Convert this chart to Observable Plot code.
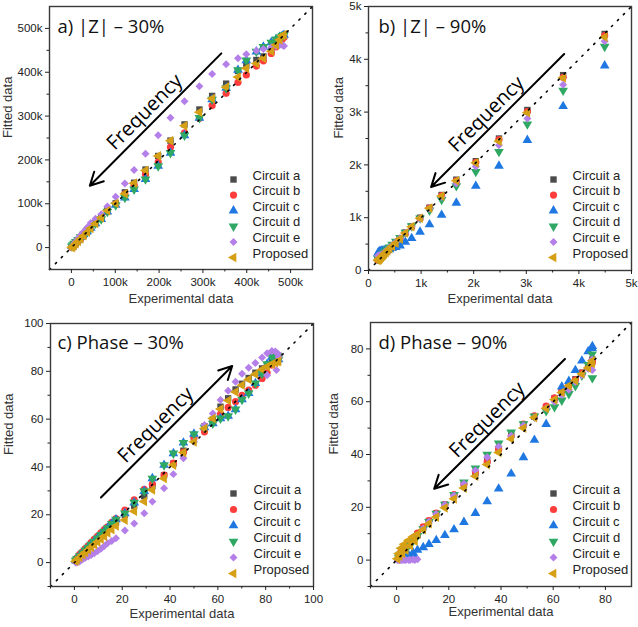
<!DOCTYPE html>
<html>
<head>
<meta charset="utf-8">
<script src="https://cdn.jsdelivr.net/npm/d3@7"></script>
<script src="https://cdn.jsdelivr.net/npm/@observablehq/plot@0.6"></script>
<style>
  html,body{margin:0;padding:0;background:#fff;}
  #fig{position:relative;width:638px;height:627px;overflow:hidden;background:#fff;}
  #fig > div{position:absolute;}
  #fig svg{background:transparent !important;}
</style>
</head>
<body>
<div id="fig">
  <div id="pd" style="left:319px;top:313px"></div>
  <div id="pb" style="left:319px;top:0"></div>
  <div id="pa" style="left:0;top:0"></div>
  <div id="pc" style="left:0;top:313px"></div>
</div>
<script>
// ---------- series meta ----------
const seriesNames = ["Circuit a", "Circuit b", "Circuit c", "Circuit d", "Circuit e", "Proposed"];
const seriesColors = ["#4b4b4b", "#ff3d3d", "#1f78e2", "#2ea862", "#b47fe8", "#d6a016"];
const seriesSymbols = ["square", "circle", "triangle", "triangle", "diamond2", "triangle"];
const seriesRotate = [0, 0, 0, 180, 0, -90];

// ---------- panel a : |Z| - 30% (values in k) ----------
const zx30 = [1, 3, 6, 10, 15, 21, 28, 36, 44, 55, 68, 82, 101, 122, 143, 169, 198, 226, 258, 292, 321, 353, 380, 399, 422, 438, 456, 467, 475, 481, 485];
const z30a = [1, 3, 6, 10, 15, 21, 28, 36, 45, 56, 68, 85, 101, 126, 148, 178, 209, 244, 281, 315, 346, 374, 403, 415, 428, 436, 450, 466, 475, 480, 482];
const z30b = [1, 3, 6, 10, 15, 21, 28, 36, 44, 55, 66, 82, 99, 122, 142, 167, 195, 229, 262, 295, 324, 352, 377, 394, 414, 426, 443, 458, 468, 476, 480];
const z30c = [3, 6, 9, 13, 18, 24, 30, 37, 45, 55, 65, 82, 97, 114, 133, 156, 186, 216, 256, 296, 338, 364, 405, 427, 447, 458, 468, 475, 480, 483, 485];
const z30d = [3, 6, 9, 13, 18, 24, 30, 37, 45, 55, 65, 82, 97, 114, 133, 156, 186, 216, 256, 296, 338, 364, 405, 427, 447, 458, 468, 475, 480, 483, 485];
const z30e = [2, 5, 9, 14, 20, 28, 36, 46, 56, 66, 76, 94, 116, 146, 177, 214, 256, 296, 334, 368, 396, 418, 432, 441, 449, 453, 457, 460, 462, 462, 460];
const z30p = [0, 2, 5, 9, 14, 20, 27, 35, 44, 55, 68, 84, 101, 123, 147, 176, 209, 244, 278, 309, 340, 366, 389, 409, 420, 432, 448, 462, 474, 483, 486];

// ---------- panel b : |Z| - 90% (values in k) ----------
const zx90 = [0.18, 0.19, 0.20, 0.21, 0.22, 0.24, 0.26, 0.28, 0.30, 0.33, 0.36, 0.40, 0.45, 0.52, 0.60, 0.70, 0.82, 0.98, 1.16, 1.39, 1.67, 2.04, 2.48, 3.02, 3.70, 4.49];
const z90a = [0.20, 0.21, 0.22, 0.23, 0.24, 0.26, 0.28, 0.30, 0.32, 0.35, 0.38, 0.42, 0.47, 0.53, 0.61, 0.72, 0.84, 1.00, 1.19, 1.43, 1.72, 2.07, 2.50, 3.04, 3.70, 4.48];
const z90b = [0.20, 0.21, 0.22, 0.23, 0.24, 0.26, 0.28, 0.30, 0.32, 0.35, 0.38, 0.42, 0.47, 0.53, 0.61, 0.71, 0.83, 0.99, 1.18, 1.42, 1.70, 2.05, 2.48, 3.01, 3.66, 4.45];
const z90c = [0.33, 0.34, 0.35, 0.36, 0.36, 0.37, 0.37, 0.37, 0.38, 0.38, 0.39, 0.40, 0.42, 0.44, 0.47, 0.54, 0.61, 0.73, 0.87, 1.05, 1.28, 1.60, 1.98, 2.47, 3.11, 3.88];
const z90d = [0.22, 0.23, 0.24, 0.25, 0.26, 0.28, 0.30, 0.32, 0.34, 0.37, 0.40, 0.44, 0.49, 0.55, 0.62, 0.72, 0.84, 0.99, 1.14, 1.34, 1.60, 1.87, 2.25, 2.77, 3.41, 4.24];
const z90e = [0.28, 0.28, 0.28, 0.29, 0.29, 0.30, 0.31, 0.32, 0.34, 0.36, 0.39, 0.43, 0.48, 0.54, 0.61, 0.71, 0.83, 0.98, 1.17, 1.39, 1.65, 1.97, 2.37, 2.88, 3.52, 4.34];
const z90p = [0.19, 0.20, 0.21, 0.22, 0.23, 0.25, 0.27, 0.29, 0.31, 0.34, 0.37, 0.41, 0.46, 0.52, 0.60, 0.71, 0.83, 0.99, 1.18, 1.41, 1.70, 2.04, 2.45, 2.99, 3.65, 4.42];

// ---------- panel c : Phase - 30% ----------
const px30 = [0.5, 1.1, 2.2, 3.5, 4.6, 5.8, 7.0, 8.3, 9.7, 11.1, 12.5, 13.9, 15.6, 17.4, 21.1, 25.0, 29.2, 32.6, 37.5, 41.4, 45.6, 50.0, 54.4, 57.9, 61.1, 64.3, 67.4, 70.1, 72.9, 75.7, 78.5, 80.6, 82.6, 84.0, 85.0, 85.4, 84.5, 80.6];
const p30a = [0.8, 1.5, 2.8, 4.2, 5.4, 6.6, 7.9, 9.1, 10.4, 11.8, 13.2, 14.5, 15.8, 16.8, 20.0, 23.8, 27.8, 32.0, 36.6, 41.4, 46.8, 52.4, 57.0, 59.8, 65.2, 68.7, 72.4, 74.8, 77.2, 79.4, 81.2, 82.6, 84.0, 85.2, 86.2, 86.5, null, null];
const p30b = [1.0, 2.0, 3.4, 4.6, 5.8, 7.0, 8.4, 9.7, 11.0, 12.4, 13.8, 15.0, 16.8, 18.4, 22.0, 26.2, 30.6, 32.8, 36.6, 41.6, 46.2, 52.2, 54.7, 58.6, 62.1, 64.9, 67.3, 70.0, 72.1, 74.2, 77.0, 79.4, 82.6, 85.4, 86.0, 85.5, null, null];
const p30c = [0.9, 1.6, 2.7, 4.0, 5.1, 6.3, 7.5, 8.8, 10.2, 11.6, 13.0, 14.4, 16.2, 18.0, 20.6, 25.1, 29.9, 35.2, 40.8, 45.7, 50.1, 53.8, 56.5, 58.2, 60.3, 61.3, 64.1, 68.2, 70.8, 75.0, 79.0, 83.0, 86.0, 87.0, 86.5, 85.0, null, null];
const p30d = [0.9, 1.6, 2.7, 4.0, 5.1, 6.3, 7.5, 8.8, 10.2, 11.6, 13.0, 14.4, 16.2, 18.0, 20.6, 25.1, 29.9, 35.2, 40.8, 45.7, 50.1, 53.8, 56.5, 58.2, 60.3, 61.3, 64.1, 68.2, 70.8, 75.0, 79.0, 83.0, 86.0, 87.0, 86.5, 85.0, null, null];
const p30e = [0.0, 0.0, 0.5, 1.4, 2.0, 2.5, 3.2, 3.9, 4.8, 5.8, 6.9, 8.1, 9.0, 10.2, 13.4, 16.4, 20.6, 25.5, 31.1, 37.0, 43.6, 50.5, 57.5, 62.4, 68.0, 71.9, 75.6, 79.0, 81.5, 83.5, 85.8, 87.6, 88.5, 88.3, 87.5, 86.0, 80.5, 78.4];
const p30p = [0.6, 1.2, 2.2, 3.3, 4.3, 5.3, 6.4, 7.5, 8.7, 9.8, 11.0, 12.4, 13.8, 15.3, 17.8, 21.5, 25.6, 30.4, 35.2, 40.8, 46.0, 50.5, 56.1, 60.3, 64.2, 67.8, 71.4, 74.2, 76.6, 78.8, 80.8, 82.0, 83.0, 83.6, 84.0, 84.3, null, null];

// ---------- panel d : Phase - 90% ----------
const px90 = [0.8, 1.7, 2.9, 4.6, 6.3, 8.0, 10.2, 12.4, 15.2, 18.5, 22.0, 25.8, 30.2, 34.7, 39.1, 43.9, 48.6, 52.8, 57.3, 60.5, 63.3, 66.0, 68.5, 71.0, 73.4, 74.9, 75.0, 0.3, 1.2, 2.2, 3.5, 5.2, 7.0];
const p90a = [1.5, 2.5, 4.0, 5.8, 7.5, 9.5, 12.3, 14.8, 17.6, 21.0, 24.5, 28.3, 32.9, 37.7, 42.1, 47.5, 51.3, 54.3, 58.0, 61.3, 64.0, 66.3, 68.5, 71.0, 73.5, 75.4, 76.0, null, null, null, null, null, null];
const p90b = [1.8, 3.0, 4.8, 6.6, 8.4, 10.2, 12.6, 15.0, 17.8, 21.0, 24.8, 28.8, 33.5, 37.2, 42.0, 47.0, 51.5, 54.6, 58.3, 61.5, 64.2, 66.2, 68.3, 70.8, 73.0, 74.6, 75.5, null, null, null, null, null, null];
const p90c = [0.2, 0.6, 1.2, 1.9, 2.8, 3.8, 4.8, 6.0, 7.5, 9.4, 11.6, 14.4, 17.8, 22.2, 27.0, 32.7, 38.9, 45.5, 51.5, null, 65.7, 67.8, 71.9, 75.5, 79.0, 80.3, 81.0, null, null, null, 0.8, 1.0, 1.4];
const p90d = [1.0, 2.2, 3.8, 5.5, 7.3, 9.2, 11.8, 14.5, 17.6, 21.0, 24.7, 29.5, 34.8, 40.0, 44.2, 48.4, 51.5, 54.5, 56.5, 58.0, 60.5, 63.0, 66.0, 70.0, 74.0, 78.0, 69.0, null, null, null, null, null, null];
const p90e = [0.0, 0.0, 0.0, 0.0, 0.2, 0.3, 12.0, 14.5, 17.5, 21.0, 24.5, 28.9, 33.9, 39.0, 43.0, 47.1, 51.0, 54.0, 57.5, 60.0, 62.5, 64.5, 67.5, 70.0, 72.5, 76.0, 72.0, 0.0, 0.0, 0.0, 0.0, 0.0, 0.0];
const p90p = [2.5, 4.5, 6.0, 7.5, 8.8, 9.8, 11.5, 13.8, 16.3, 19.8, 23.2, 27.3, 31.8, 36.2, 40.8, 45.9, 50.0, 54.0, 57.5, 60.8, 63.5, 66.0, 68.0, 70.5, 72.8, 74.5, 75.5, 0.5, 1.5, 2.5, 3.8, 5.5, 7.2];

// ---------- tick labels ----------
const kTicks = [0, 100, 200, 300, 400, 500];
const kMinor = [50, 150, 250, 350, 450];
const k5Ticks = [0, 1, 2, 3, 4, 5];
const k5Minor = [0.5, 1.5, 2.5, 3.5, 4.5];
const phaseTicksC = [0, 20, 40, 60, 80, 100];
const phaseMinorC = [-10, 10, 30, 50, 70, 90];
const phaseTicksD = [0, 20, 40, 60, 80];
const phaseMinorD = [-10, 10, 30, 50, 70];
const kFmt = d => d === 0 ? "0" : d + "k";

function makePanel(c) {
  const marks = [];
  c.series.forEach((ys, i) => {
    const pts = [];
    c.xs.forEach((x, j) => { if (ys[j] != null) pts.push({x, y: ys[j]}); });
    marks.push(Plot.dot(pts, {x: "x", y: "y", symbol: seriesSymbols[i], rotate: seriesRotate[i], fill: seriesColors[i], r: 3.6}));
  });
  marks.push(Plot.line([[c.diag[0], c.diag[0]], [c.diag[1], c.diag[1]]], {stroke: "#000", strokeWidth: 1.6, strokeDasharray: "1.4,7"}));
  marks.push(Plot.frame({stroke: "#3a3a3a", strokeWidth: 1.4}));
  marks.push(Plot.axisX({ticks: c.xticks, tickSize: 4, tickPadding: 4, tickFormat: c.fmt, label: null, fontSize: 11.5}));
  marks.push(Plot.axisX({ticks: c.xminor, tickSize: 2.5, tickFormat: () => "", label: null}));
  marks.push(Plot.axisY({ticks: c.yticks, tickSize: 4, tickPadding: 3, tickFormat: c.fmt, label: null, fontSize: 11.5}));
  marks.push(Plot.axisY({ticks: c.yminor, tickSize: 2.5, tickFormat: () => "", label: null}));
  marks.push(Plot.arrow([c.arrow], {x1: "x1", y1: "y1", x2: "x2", y2: "y2", stroke: "#000", strokeWidth: 2, headLength: 11, headAngle: 55}));
  marks.push(Plot.text([c.freq], {x: "x", y: "y", text: () => "Frequency", rotate: -45, fontSize: 20, fontFamily: "Open Sans", fill: "#000"}));
  marks.push(Plot.text([{}], {frameAnchor: "top-left", dx: c.titleDx, dy: c.titleDy, lineAnchor: "bottom", textAnchor: "start", text: () => c.title, fontSize: 18.5, fontFamily: "Open Sans", fill: "#111"}));
  marks.push(Plot.text([{}], {frameAnchor: "bottom", dy: c.xlabDy, text: () => "Experimental data", fontSize: 13, fill: "#333"}));
  marks.push(Plot.text([{}], {frameAnchor: "left", dx: c.ylabDx, rotate: -90, text: () => "Fitted data", fontSize: 13, fill: "#333"}));
  seriesNames.forEach((n, i) => {
    const dy = c.leg.dy0 + i * c.leg.step;
    marks.push(Plot.dot([{}], {frameAnchor: "bottom-right", dx: c.leg.sym, dy, symbol: seriesSymbols[i], rotate: seriesRotate[i], fill: seriesColors[i], r: 3.6}));
    marks.push(Plot.text([{}], {frameAnchor: "bottom-right", dx: c.leg.txt, dy, text: () => n, textAnchor: "start", fontSize: 13, fill: "#222"}));
  });
  const svg = Plot.plot({
    width: c.width, height: c.height,
    marginLeft: c.m[0], marginRight: c.m[1], marginTop: c.m[2], marginBottom: c.m[3],
    x: {domain: c.xdom}, y: {domain: c.ydom},
    style: {fontFamily: "'Liberation Sans', Arial, sans-serif", fontSize: "11.5px", color: "#222", background: "transparent", overflow: "visible"},
    marks
  });
  document.getElementById(c.el).appendChild(svg);
}

makePanel({
  el: "pa", width: 319, height: 313, m: [49, 7, 6, 44],
  xs: zx30, series: [z30a, z30b, z30c, z30d, z30e, z30p],
  xdom: [-50, 550], ydom: [-50, 550], diag: [-50, 550],
  xticks: kTicks, xminor: kMinor, yticks: kTicks, yminor: kMinor, fmt: kFmt,
  arrow: {x1: 342, y1: 443, x2: 42, y2: 141}, freq: {x: 167, y: 309},
  title: "a) |Z| \u2013 30%", titleDx: 8, titleDy: 26,
  xlabDy: 33, ylabDx: -42,
  leg: {sym: -79, txt: -60, dy0: -90, step: 15.6}
});
makePanel({
  el: "pb", width: 319, height: 313, m: [49, 7, 6, 43],
  xs: zx90, series: [z90a, z90b, z90c, z90d, z90e, z90p],
  xdom: [0, 5], ydom: [0, 5], diag: [0, 5],
  xticks: k5Ticks, xminor: k5Minor, yticks: k5Ticks, yminor: k5Minor, fmt: kFmt,
  arrow: {x1: 3.72, y1: 4.10, x2: 1.19, y2: 1.58}, freq: {x: 2.24, y: 2.96},
  title: "b) |Z| \u2013 90%", titleDx: 10, titleDy: 26,
  xlabDy: 32, ylabDx: -30,
  leg: {sym: -78, txt: -59, dy0: -91, step: 15.6}
});
makePanel({
  el: "pc", width: 319, height: 314, m: [50, 6, 10, 41],
  xs: px30, series: [p30a, p30b, p30c, p30d, p30e, p30p],
  xdom: [-10, 100], ydom: [-10, 100], diag: [-10, 100],
  xticks: phaseTicksC, xminor: phaseMinorC, yticks: phaseTicksC, yminor: phaseMinorC, fmt: d3.format("d"),
  arrow: {x1: 11.1, y1: 27.2, x2: 66, y2: 82.2}, freq: {x: 34, y: 57.5},
  title: "c) Phase \u2013 30%", titleDx: 7, titleDy: 25,
  xlabDy: 31, ylabDx: -42,
  leg: {sym: -80, txt: -60, dy0: -93, step: 16}
});
makePanel({
  el: "pd", width: 319, height: 314, m: [51, 7, 9, 41],
  xs: px90, series: [p90a, p90b, p90c, p90d, p90e, p90p],
  xdom: [-10, 90], ydom: [-10, 90], diag: [-10, 90],
  xticks: phaseTicksD, xminor: phaseMinorD, yticks: phaseTicksD, yminor: phaseMinorD, fmt: d3.format("d"),
  arrow: {x1: 64.5, y1: 76.2, x2: 14.4, y2: 27}, freq: {x: 34.7, y: 53.1},
  title: "d) Phase \u2013 90%", titleDx: 8, titleDy: 26,
  xlabDy: 29, ylabDx: -37,
  leg: {sym: -78, txt: -59, dy0: -93, step: 16}
});
</script>
</body>
</html>
